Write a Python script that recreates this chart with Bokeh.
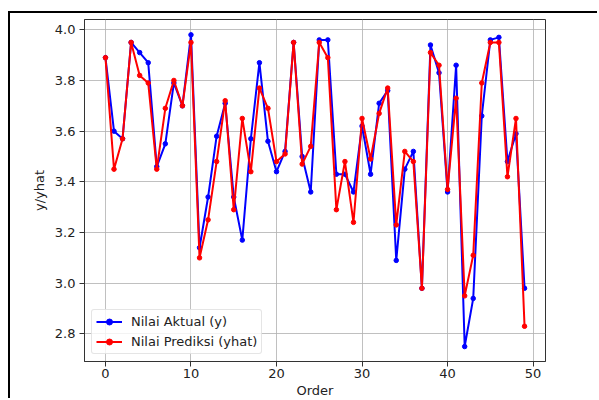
from bokeh.plotting import figure
from bokeh.models import (Range1d, FixedTicker, PrintfTickFormatter, Legend, LegendItem,
                          ColumnDataSource)
from bokeh.embed import file_html
from bokeh.resources import INLINE

order = list(range(50))
actual = [3.89, 3.60, 3.57, 3.95, 3.91, 3.87, 3.46, 3.55, 3.79, 3.70,
          3.98, 3.14, 3.34, 3.58, 3.71, 3.34, 3.17, 3.57, 3.87, 3.56,
          3.44, 3.52, 3.95, 3.50, 3.36, 3.96, 3.96, 3.43, 3.43, 3.36,
          3.62, 3.43, 3.71, 3.76, 3.09, 3.45, 3.52, 2.98, 3.94, 3.83,
          3.36, 3.86, 2.75, 2.94, 3.66, 3.96, 3.97, 3.48, 3.59, 2.98]
predicted = [3.89, 3.45, 3.57, 3.95, 3.82, 3.79, 3.45, 3.69, 3.80, 3.70,
             3.95, 3.10, 3.25, 3.48, 3.72, 3.29, 3.65, 3.44, 3.77, 3.69,
             3.48, 3.51, 3.95, 3.47, 3.54, 3.95, 3.89, 3.29, 3.48, 3.24,
             3.65, 3.49, 3.67, 3.77, 3.23, 3.52, 3.48, 2.98, 3.91, 3.86,
             3.37, 3.73, 2.95, 3.11, 3.79, 3.95, 3.95, 3.42, 3.65, 2.83]
x_ticks = [0, 10, 20, 30, 40, 50]
y_ticks = [2.8, 3.0, 3.2, 3.4, 3.6, 3.8, 4.0]
series_names = ["Nilai Aktual (y)", "Nilai Prediksi (yhat)"]
series_colors = ["#0000ff", "#ff0000"]

FONT = "DejaVu Sans"

p = figure(width=589, height=387, output_backend="svg", toolbar_location=None,
           x_range=Range1d(-2.45, 51.45), y_range=Range1d(2.691, 4.0405),
           min_border_left=74, min_border_right=54, min_border_top=6, min_border_bottom=38,
           background_fill_color="white", border_fill_color="white",
           styles={"margin-left": "10px", "margin-top": "13px",
                   "box-shadow": "-2px -2px 0 0 black"})

p.outline_line_color = "#333333"
p.outline_line_width = 1

for ax in (p.xaxis[0], p.yaxis[0]):
    ax.major_label_text_font = FONT
    ax.major_label_text_font_size = "13px"
    ax.major_label_text_color = "#222222"
    ax.axis_label_text_font = FONT
    ax.axis_label_text_font_size = "13px"
    ax.axis_label_text_font_style = "normal"
    ax.axis_label_text_color = "#222222"
    ax.minor_tick_line_color = None
    ax.major_tick_out = 5
    ax.major_tick_in = 0
    ax.major_tick_line_color = "#333333"
    ax.axis_line_color = "#333333"

p.xaxis.ticker = FixedTicker(ticks=x_ticks)
p.yaxis.ticker = FixedTicker(ticks=y_ticks)
p.yaxis.formatter = PrintfTickFormatter(format="%.1f")
p.xaxis.axis_label = "Order"
p.yaxis.axis_label = "y/yhat"
p.xaxis.major_label_standoff = 2
p.xaxis.axis_label_standoff = 2
p.yaxis.major_label_standoff = 4
p.yaxis.axis_label_standoff = 5

p.grid.grid_line_color = "#b0b0b0"
p.grid.grid_line_width = 1
p.grid.grid_line_alpha = 0.8

src = ColumnDataSource(dict(x=order, a=actual, b=predicted))
items = []
for col, name, color in zip(["a", "b"], series_names, series_colors):
    ln = p.line("x", col, source=src, line_color=color, line_width=2)
    sc = p.scatter("x", col, source=src, size=4.5, fill_color=color, line_color=color)
    items.append(LegendItem(label=name, renderers=[ln, sc]))

legend = Legend(items=items, location="bottom_left")
legend.margin = 7
legend.padding = 4
legend.spacing = 5
legend.glyph_width = 26
legend.glyph_height = 15
legend.label_height = 15
legend.label_standoff = 9
legend.label_text_font = FONT
legend.label_text_font_size = "13px"
legend.label_text_color = "#222222"
legend.border_line_color = "#cccccc"
legend.border_line_width = 1
legend.background_fill_alpha = 0.8
legend.border_radius = 3
p.add_layout(legend)

open("out.html", "w").write(file_html(p, INLINE))
